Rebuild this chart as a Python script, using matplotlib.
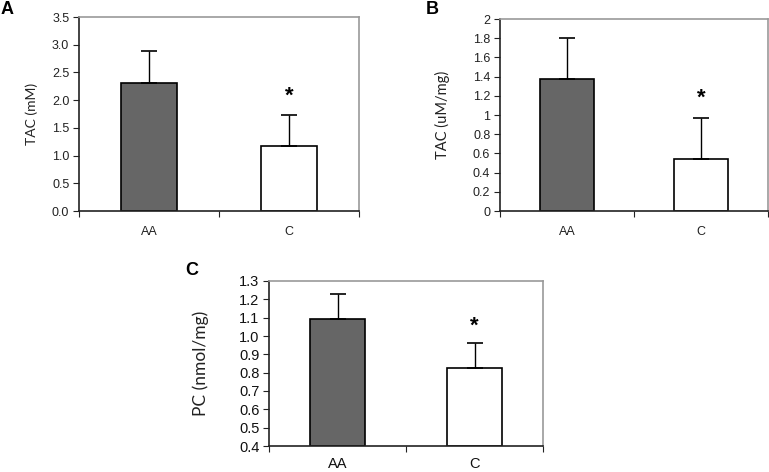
import matplotlib
matplotlib.use("Agg")
import matplotlib.pyplot as plt
from matplotlib.ticker import FixedLocator, NullFormatter, FixedFormatter

plt.rcParams['font.family'] = ['Liberation Sans', 'DejaVu Sans']

categories = ["AA", "C"]

tac_mm = [2.31, 1.17]
tac_mm_err = [0.57, 0.57]

tac_um = [1.38, 0.545]
tac_um_err = [0.42, 0.42]

pc_nmol = [1.095, 0.825]
pc_nmol_err = [0.135, 0.135]

bar_colors = ["#666666", "#ffffff"]

W, H = 769, 472
fig = plt.figure(figsize=(W / 100, H / 100), dpi=100)


def make_axes(l, r, t, b):
    return fig.add_axes([l / W, 1 - b / H, (r - l) / W, (b - t) / H])


def draw(ax, vals, errs, ylim, yticks, ytlabels, ylabel, fs, lfs, xpad):
    x = [0.5, 1.5]
    base = ylim[0]
    ax.bar(x, [v - base for v in vals], bottom=base, width=0.4, color=bar_colors,
           edgecolor="black", linewidth=1.2, zorder=2)
    ax.errorbar(x, vals, yerr=[[0, 0], errs], fmt="none", ecolor="black",
                elinewidth=1.0, capsize=6, capthick=1.2, zorder=3)
    ax.set_xlim(0, 2)
    ax.set_ylim(*ylim)
    ax.xaxis.set_major_locator(FixedLocator([0, 1, 2]))
    ax.xaxis.set_major_formatter(NullFormatter())
    ax.xaxis.set_minor_locator(FixedLocator(x))
    ax.xaxis.set_minor_formatter(FixedFormatter(categories))
    ax.tick_params(axis="x", which="minor", length=0, pad=xpad, labelsize=fs, labelcolor="#222222")
    ax.tick_params(axis="x", which="major", length=4, direction="out", color="#222222")
    ax.set_yticks(yticks)
    ax.set_yticklabels(ytlabels)
    ax.tick_params(axis="y", length=4, direction="out", labelsize=fs, labelcolor="#222222",
                   color="#222222", pad=3)
    for s in ("left", "bottom"):
        ax.spines[s].set_color("#222222")
        ax.spines[s].set_linewidth(1.2)
    for s in ("top", "right"):
        ax.spines[s].set_color("#999999")
        ax.spines[s].set_linewidth(1.2)
    ax.set_ylabel(ylabel, fontsize=lfs, color="#222222", family=["Lato", "DejaVu Sans"])
    ax.patch.set_alpha(0)


# Panel A
axA = make_axes(79, 359, 17, 211)
ytA = [0, 0.5, 1.0, 1.5, 2.0, 2.5, 3.0, 3.5]
draw(axA, tac_mm, tac_mm_err, (0, 3.5), ytA, [f"{v:.1f}" for v in ytA], "TAC (mM)",
     9, 10, 11)
axA.yaxis.set_label_coords(-0.148, 0.5)
axA.text(1.5, 2.07, "*", ha="center", va="center", fontsize=16, fontweight="bold")

# Panel B
axB = make_axes(500, 768, 19, 211)
ytB = [0, 0.2, 0.4, 0.6, 0.8, 1.0, 1.2, 1.4, 1.6, 1.8, 2.0]
ytB_l = ["0", "0.2", "0.4", "0.6", "0.8", "1", "1.2", "1.4", "1.6", "1.8", "2"]
draw(axB, tac_um, tac_um_err, (0, 2), ytB, ytB_l, "TAC (uM/mg)", 9, 10.5, 11)
axB.yaxis.set_label_coords(-0.187, 0.5)
axB.text(1.5, 1.18, "*", ha="center", va="center", fontsize=16, fontweight="bold")

# Panel C
axC = make_axes(269, 543, 281, 446)
ytC = [0.4, 0.5, 0.6, 0.7, 0.8, 0.9, 1.0, 1.1, 1.2, 1.3]
draw(axC, pc_nmol, pc_nmol_err, (0.4, 1.3), ytC, [f"{v:.1f}" for v in ytC], "PC (nmol/mg)",
     10.5, 12.5, 8)
axC.tick_params(axis="both", which="both", labelcolor="#111111")
axC.yaxis.set_label_coords(-0.22, 0.5)
axC.text(1.5, 1.053, "*", ha="center", va="center", fontsize=16, fontweight="bold")

# Panel letters
fig.text(1 / W, 1 - 1 / H, "A", fontsize=13, fontweight="bold", va="top", ha="left")
fig.text(426 / W, 1 - 1 / H, "B", fontsize=13, fontweight="bold", va="top", ha="left")
fig.text(185 / W, 1 - 262 / H, "C", fontsize=13, fontweight="bold", va="top", ha="left")

fig.savefig("out.png", dpi=100)
